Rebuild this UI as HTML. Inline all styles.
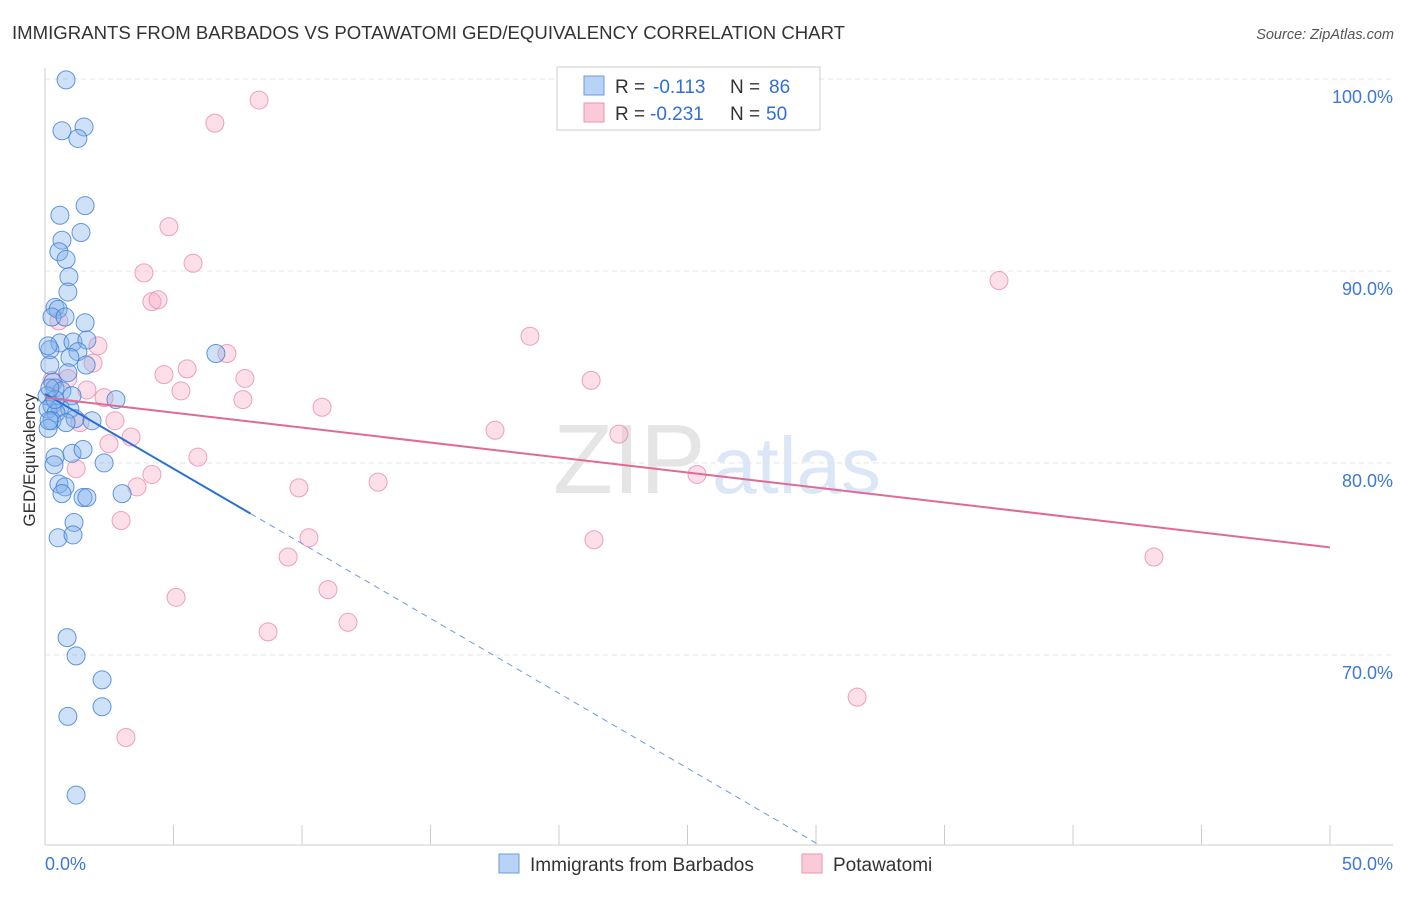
<!DOCTYPE html>
<html><head><meta charset="utf-8"><style>
body{margin:0;background:#fff;font-family:"Liberation Sans",sans-serif;}
svg text{font-family:"Liberation Sans",sans-serif;}
</style></head><body>
<svg id="chart" width="1406" height="892" xmlns="http://www.w3.org/2000/svg">
<text x="12" y="39" font-size="18.6" fill="#333">IMMIGRANTS FROM BARBADOS VS POTAWATOMI GED/EQUIVALENCY CORRELATION CHART</text>
<text x="1394" y="39" font-size="14.5" fill="#555" font-style="italic" text-anchor="end">Source: ZipAtlas.com</text>
<g opacity="0.5">
<text x="553" y="493" font-size="98" fill="#ccc" font-family="Liberation Serif">ZIP</text>
<text x="712" y="493" font-size="80" fill="#b8cff0">atlas</text>
</g>
<g id="grid"></g>
<g id="axes"></g>
<g id="marks"></g>
<g id="trends"></g>
<g>
<rect x="557" y="67" width="263" height="63" fill="#fff" stroke="#ccc"/>
<rect x="584" y="76" width="20" height="19" fill="#b8d3f5" stroke="#6a9be0"/>
<rect x="584" y="103" width="20" height="19" fill="#fbcad8" stroke="#ea96b0"/>
<text x="615" y="93" font-size="19" fill="#333">R = <tspan x="653" fill="#2f6fd6">-0.113</tspan><tspan x="730">N = </tspan><tspan x="769" fill="#2f6fd6">86</tspan></text>
<text x="615" y="120" font-size="19" fill="#333">R = <tspan x="650" fill="#2f6fd6">-0.231</tspan><tspan x="730">N = </tspan><tspan x="766" fill="#2f6fd6">50</tspan></text>
</g>
<g>
<rect x="499" y="854" width="20" height="19" fill="#b8d3f5" stroke="#6a9be0"/>
<text x="530" y="871" font-size="19" fill="#333">Immigrants from Barbados</text>
<rect x="802" y="854" width="20" height="19" fill="#fbcad8" stroke="#ea96b0"/>
<text x="833" y="871" font-size="19" fill="#333">Potawatomi</text>
</g>
<text x="35" y="460" font-size="17" fill="#333" transform="rotate(-90 35 460)" text-anchor="middle">GED/Equivalency</text>
</svg>
<script>
const blueX=[0.82,0.66,1.52,1.28,1.56,0.58,1.40,0.66,0.54,0.82,0.93,0.89,0.39,0.51,0.27,0.78,1.56,0.58,1.09,1.63,0.19,1.28,0.97,1.60,0.19,0.89,0.31,0.39,0.66,0.08,1.05,2.76,0.27,0.58,0.97,0.12,0.43,1.17,0.27,1.83,0.82,0.12,1.05,1.48,0.39,0.35,2.30,0.54,0.78,0.66,1.48,1.63,3.0,1.13,0.51,1.09,6.65,0.86,1.21,2.22,2.22,0.89,1.21,0.16,0.39,0.19,0.12];
const blueY=[99.95,97.3,97.5,96.9,93.4,92.9,92.0,91.6,91.0,90.6,89.7,88.9,88.1,88.0,87.6,87.6,87.3,86.25,86.3,86.4,85.9,85.8,85.5,85.1,85.1,84.7,84.2,83.9,83.75,83.5,83.5,83.3,83.0,82.9,82.8,82.8,82.6,82.3,82.2,82.2,82.1,81.8,80.5,80.7,80.3,79.9,80.0,78.9,78.75,78.4,78.2,78.2,78.4,76.9,76.1,76.25,85.7,70.9,69.95,68.7,67.3,66.8,62.7,82.2,83.3,83.9,86.1];
const pinkX=[8.33,6.61,4.82,5.76,3.85,4.16,4.40,0.54,2.06,7.08,1.87,18.87,5.53,4.63,0.27,0.89,7.78,21.25,5.29,1.63,2.30,7.70,10.78,2.72,1.36,3.35,2.49,17.51,22.33,5.95,1.21,4.16,3.58,9.88,12.96,25.37,2.96,10.27,21.36,9.46,43.15,5.10,11.01,11.79,8.68,31.6,3.15,37.12];
const pinkY=[98.9,97.7,92.3,90.4,89.9,88.4,88.5,87.4,86.1,85.7,85.2,86.6,84.9,84.6,84.3,84.4,84.4,84.3,83.75,83.8,83.4,83.3,82.9,82.2,82.1,81.35,81.0,81.7,81.5,80.3,79.7,79.4,78.75,78.7,79.0,79.4,77.0,76.1,76.0,75.1,75.1,73.0,73.4,71.7,71.2,67.8,65.7,89.5];
const yTicks=[100,90,80,70];
const yTickLabels=["100.0%","90.0%","80.0%","70.0%"];
const xTicks=[0,5,10,15,20,25,30,35,40,45,50];
const blueTrend=[83.6,-0.78]; // intercept, slope
const pinkTrend=[83.4,-0.156];
const NS="http://www.w3.org/2000/svg";
const X0=45,X1=1330,YT=68,YB=845,DMIN=60.1,DMAX=100.57;
const xs=v=>X0+(v/50)*(X1-X0);
const ys=v=>YB-(v-DMIN)/(DMAX-DMIN)*(YB-YT);
function mk(tag,attrs,parent){const e=document.createElementNS(NS,tag);for(const k in attrs)e.setAttribute(k,attrs[k]);parent.appendChild(e);return e;}
const grid=document.getElementById('grid'),axes=document.getElementById('axes'),marks=document.getElementById('marks'),trends=document.getElementById('trends');
yTicks.forEach((t,i)=>{
 const l=mk('line',{x1:X0,x2:1393,y1:ys(t),y2:ys(t),stroke:'#e4e4e4','stroke-dasharray':'5,4'},grid);
 
 
 const tx=mk('text',{x:1393,y:ys(t)+24,'font-size':18,fill:'#3d78d6','text-anchor':'end'},axes);
 tx.textContent=yTickLabels[i];
 
 
});
const ax=mk('line',{x1:X0,x2:1393,y1:YB,y2:YB,stroke:'#ccc'},axes);


const ay=mk('line',{x1:X0,x2:X0,y1:YT,y2:YB,stroke:'#ccc'},axes);


xTicks.forEach(t=>{
 const l=mk('line',{x1:xs(t),x2:xs(t),y1:825,y2:YB,stroke:'#ccc'},axes);
 
 
});
const xl0=mk('text',{x:45,y:870,'font-size':18,fill:'#3d78d6'},axes);xl0.textContent='0.0%';


const xl1=mk('text',{x:1393,y:870,'font-size':18,fill:'#3d78d6','text-anchor':'end'},axes);xl1.textContent='50.0%';


pinkX.forEach((v,i)=>{
 const c=mk('circle',{cx:xs(v),cy:ys(pinkY[i]),r:9,fill:'rgba(246,170,195,0.38)',stroke:'rgba(232,140,170,0.8)','stroke-width':1},marks);
 
 
});
blueX.forEach((v,i)=>{
 const c=mk('circle',{cx:xs(v),cy:ys(blueY[i]),r:9,fill:'rgba(130,175,235,0.38)',stroke:'rgba(60,125,215,0.8)','stroke-width':1},marks);
 
 
});
const bf=x=>blueTrend[0]+blueTrend[1]*x, pf=x=>pinkTrend[0]+pinkTrend[1]*x;
const bs=mk('line',{x1:xs(0),y1:ys(bf(0)),x2:xs(8),y2:ys(bf(8)),stroke:'#2a6fd6','stroke-width':2},trends);


const xEnd=(DMIN-blueTrend[0])/blueTrend[1];
const bd=mk('line',{x1:xs(8),y1:ys(bf(8)),x2:xs(xEnd),y2:ys(bf(xEnd)),stroke:'#6a9be0','stroke-width':1,'stroke-dasharray':'6,5'},trends);


const pl=mk('line',{x1:xs(0),y1:ys(pf(0)),x2:xs(50),y2:ys(pf(50)),stroke:'#e06a96','stroke-width':2},trends);


</script>
</body></html>
